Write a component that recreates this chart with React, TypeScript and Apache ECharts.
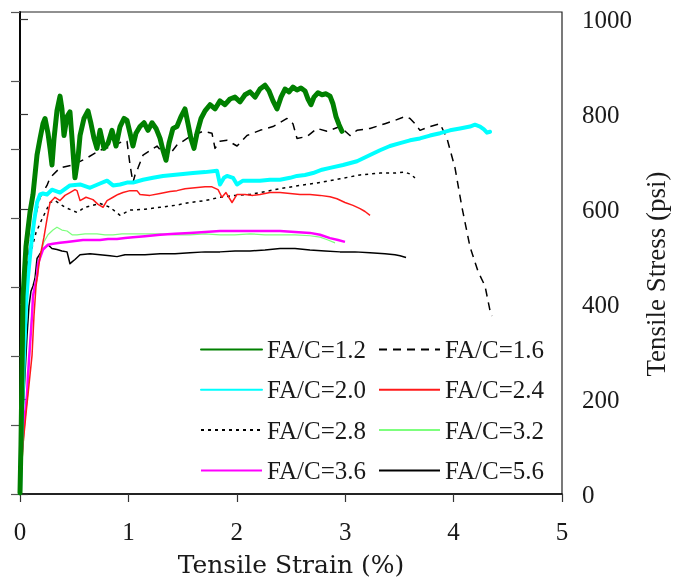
import React, { useEffect, useRef } from 'react';
import * as echarts from 'echarts';

// Axis scales
const strainMin = 0;
const strainMax = 5;
const strainStep = 1;
const psiTicks = [0, 200, 400, 600, 800, 1000];
const mpaMax = 7; // left axis, MPa
const psiPerMpa = 145.038;

// Legend names
const names = ['FA/C=1.2', 'FA/C=1.6', 'FA/C=2.0', 'FA/C=2.4', 'FA/C=2.8', 'FA/C=3.2', 'FA/C=3.6', 'FA/C=5.6'];

// [tensile strain (%), tensile stress (psi)]
const fac12 = [
  [0, 2], [0.009, 104], [0.018, 251], [0.028, 417], [0.055, 521], [0.092, 593], [0.12, 631], [0.157, 714],
  [0.185, 749], [0.212, 780], [0.231, 791], [0.258, 760], [0.277, 728], [0.295, 693], [0.314, 749], [0.341, 807],
  [0.369, 838], [0.387, 811], [0.406, 755], [0.434, 795], [0.461, 805], [0.48, 749], [0.507, 666], [0.535, 708],
  [0.554, 755], [0.59, 791], [0.627, 807], [0.655, 780], [0.683, 749], [0.71, 728], [0.738, 766], [0.775, 728],
  [0.812, 739], [0.849, 766], [0.886, 733], [0.923, 774], [0.959, 791], [0.987, 787], [1.015, 760], [1.042, 733],
  [1.07, 760], [1.107, 774], [1.144, 782], [1.181, 766], [1.218, 782], [1.255, 770], [1.292, 749], [1.319, 724],
  [1.347, 703], [1.375, 739], [1.411, 770], [1.448, 774], [1.485, 795], [1.522, 811], [1.55, 780], [1.577, 749],
  [1.605, 728], [1.633, 760], [1.67, 791], [1.707, 807], [1.753, 820], [1.799, 811], [1.845, 828], [1.891, 820],
  [1.937, 832], [1.983, 836], [2.03, 826], [2.076, 841], [2.122, 847], [2.168, 836], [2.214, 853], [2.26, 861],
  [2.297, 849], [2.334, 828], [2.371, 811], [2.408, 836], [2.445, 853], [2.482, 847], [2.518, 857], [2.555, 851],
  [2.592, 855], [2.629, 849], [2.657, 832], [2.684, 820], [2.712, 836], [2.749, 845], [2.786, 841], [2.823, 843],
  [2.86, 838], [2.887, 822], [2.915, 795], [2.943, 778], [2.97, 764],
];

const fac16 = [
  [0, 2], [0.018, 168], [0.037, 355], [0.065, 479], [0.111, 556], [0.185, 625], [0.249, 650], [0.277, 666],
  [0.369, 687], [0.489, 693], [0.618, 708], [0.738, 724], [0.858, 733], [0.95, 743], [0.987, 743], [1.015, 693],
  [1.042, 656], [1.061, 672], [1.089, 687], [1.135, 714], [1.264, 733], [1.356, 708], [1.448, 735], [1.568, 753],
  [1.688, 764], [1.771, 760], [1.799, 728], [1.845, 743], [1.91, 745], [2.002, 733], [2.094, 755], [2.214, 766],
  [2.334, 774], [2.463, 791], [2.518, 780], [2.555, 749], [2.648, 753], [2.74, 770], [2.832, 764], [2.952, 774],
  [3.044, 755], [3.109, 766], [3.229, 770], [3.367, 780], [3.459, 787], [3.552, 795], [3.598, 791], [3.644, 780],
  [3.69, 766], [3.782, 774], [3.875, 780], [3.939, 749], [4.013, 687], [4.077, 604], [4.151, 521], [4.225, 469],
  [4.29, 438], [4.336, 386], [4.354, 375],
];

const fac20 = [
  [0, 2], [0.009, 84], [0.018, 168], [0.037, 292], [0.055, 396], [0.074, 458], [0.101, 521], [0.129, 573],
  [0.157, 614], [0.185, 631], [0.212, 633], [0.249, 631], [0.295, 641], [0.369, 635], [0.461, 650], [0.554, 652],
  [0.646, 645], [0.738, 654], [0.803, 660], [0.858, 650], [0.923, 652], [0.987, 656], [1.042, 656], [1.135, 662],
  [1.227, 666], [1.319, 670], [1.411, 672], [1.504, 674], [1.596, 676], [1.707, 678], [1.817, 681], [1.845, 652],
  [1.882, 666], [1.91, 670], [1.965, 666], [2.002, 652], [2.057, 660], [2.122, 660], [2.214, 660], [2.306, 662],
  [2.399, 662], [2.491, 666], [2.555, 670], [2.629, 672], [2.703, 676], [2.786, 683], [2.86, 687], [2.98, 693],
  [3.109, 701], [3.229, 714], [3.321, 724], [3.413, 733], [3.506, 739], [3.598, 745], [3.69, 749], [3.782, 755],
  [3.875, 760], [3.967, 766], [4.059, 770], [4.151, 774], [4.197, 778], [4.244, 774], [4.28, 768], [4.308, 761],
  [4.336, 763],
];

const fac24 = [
  [0, 2], [0.028, 105], [0.055, 168], [0.083, 230], [0.111, 292], [0.129, 375], [0.148, 438], [0.185, 500],
  [0.221, 541], [0.249, 579], [0.277, 614], [0.323, 625], [0.369, 618], [0.415, 629], [0.461, 635], [0.507, 641],
  [0.526, 639], [0.554, 618], [0.609, 625], [0.673, 620], [0.72, 610], [0.766, 604], [0.803, 618], [0.858, 625],
  [0.904, 631], [0.95, 635], [1.015, 639], [1.079, 639], [1.107, 631], [1.199, 629], [1.292, 633], [1.384, 637],
  [1.448, 639], [1.522, 643], [1.614, 645], [1.707, 647], [1.771, 647], [1.827, 641], [1.863, 625], [1.9, 635],
  [1.956, 614], [2.002, 631], [2.076, 631], [2.149, 629], [2.214, 631], [2.306, 635], [2.399, 635], [2.491, 633],
  [2.583, 631], [2.675, 631], [2.768, 629], [2.86, 626], [2.924, 622], [2.998, 614], [3.072, 608], [3.137, 601],
  [3.183, 595], [3.229, 587],
];

const fac28 = [
  [0, 2], [0.018, 147], [0.037, 313], [0.065, 438], [0.101, 510], [0.148, 551], [0.203, 579], [0.277, 614],
  [0.323, 618], [0.415, 604], [0.526, 593], [0.6, 604], [0.738, 612], [0.83, 604], [0.923, 587], [1.015, 598],
  [1.153, 600], [1.292, 604], [1.43, 608], [1.568, 614], [1.707, 618], [1.845, 625], [1.983, 629], [2.122, 631],
  [2.26, 637], [2.399, 643], [2.583, 650], [2.768, 656], [2.952, 664], [3.137, 672], [3.321, 676], [3.459, 676],
  [3.552, 678], [3.598, 674], [3.644, 666],
];

const fac32 = [
  [0, 2], [0.037, 126], [0.065, 209], [0.083, 271], [0.101, 355], [0.12, 417], [0.148, 458], [0.185, 500],
  [0.221, 531], [0.258, 546], [0.304, 556], [0.341, 562], [0.387, 556], [0.434, 554], [0.48, 546], [0.526, 546],
  [0.6, 548], [0.71, 548], [0.784, 546], [0.858, 546], [0.941, 548], [1.015, 548], [1.153, 548], [1.292, 548],
  [1.43, 546], [1.568, 546], [1.707, 548], [1.845, 546], [1.983, 546], [2.122, 548], [2.26, 546], [2.399, 546],
  [2.537, 546], [2.675, 544], [2.768, 541], [2.841, 535], [2.906, 529],
];

const fac36 = [
  [0, 2], [0.009, 63], [0.028, 126], [0.046, 168], [0.065, 209], [0.074, 251], [0.092, 313], [0.111, 375],
  [0.12, 417], [0.138, 438], [0.157, 458], [0.166, 485], [0.212, 515], [0.258, 525], [0.304, 527], [0.369, 529],
  [0.434, 531], [0.507, 533], [0.581, 535], [0.664, 535], [0.738, 535], [0.812, 537], [0.895, 537], [0.969, 539],
  [1.042, 541], [1.153, 543], [1.292, 546], [1.43, 548], [1.568, 550], [1.707, 552], [1.845, 554], [1.983, 554],
  [2.122, 554], [2.26, 554], [2.399, 554], [2.537, 552], [2.675, 550], [2.768, 546], [2.86, 539], [2.934, 535],
  [2.998, 531],
];

const fac56 = [
  [0, 2], [0.009, 84], [0.028, 168], [0.046, 251], [0.065, 334], [0.083, 396], [0.101, 427], [0.12, 438],
  [0.138, 454], [0.157, 496], [0.185, 506], [0.212, 515], [0.258, 525], [0.295, 517], [0.341, 515], [0.387, 512],
  [0.434, 510], [0.461, 485], [0.48, 489], [0.507, 494], [0.554, 504], [0.646, 506], [0.738, 504], [0.83, 502],
  [0.895, 500], [0.969, 504], [1.042, 504], [1.153, 504], [1.292, 506], [1.43, 506], [1.568, 508], [1.707, 510],
  [1.845, 510], [1.983, 512], [2.122, 512], [2.26, 514], [2.399, 517], [2.537, 517], [2.675, 514], [2.814, 512],
  [2.952, 510], [3.09, 510], [3.229, 508], [3.367, 506], [3.459, 504], [3.506, 502], [3.561, 498],
];

const serif = 'Liberation Serif';
const wideSerif = 'DejaVu Serif';
const textColor = '#1a1a1a';

type LineDef = { data: number[][]; color: string; width: number; dash?: number[] };

const lines: LineDef[] = [
  { data: fac12, color: '#008000', width: 5 },
  { data: fac16, color: '#000000', width: 1.5, dash: [8, 6] },
  { data: fac20, color: '#00ffff', width: 4 },
  { data: fac24, color: '#ff1a1a', width: 1.5 },
  { data: fac28, color: '#000000', width: 1.5, dash: [3, 4] },
  { data: fac32, color: '#7dff7d', width: 1.2 },
  { data: fac36, color: '#ff00ff', width: 2.5 },
  { data: fac56, color: '#000000', width: 1.5 },
];

const drawOrder = [4, 1, 7, 5, 6, 3, 2, 0];

const legendBase = {
  orient: 'vertical',
  top: 337,
  itemWidth: 61,
  itemHeight: 14,
  itemGap: 15.3,
  padding: 0,
  selectedMode: false,
  textStyle: { fontFamily: serif, fontSize: 25, color: textColor },
  itemStyle: { opacity: 0 },
};

const option = {
  animation: false,
  grid: { left: 20, right: 111, top: 12, bottom: 81, show: true, borderColor: '#222', borderWidth: 1.2 },
  legend: [
    { ...legendBase, left: 200, data: [names[0], names[2], names[4], names[6]] },
    { ...legendBase, left: 378, data: [names[1], names[3], names[5], names[7]] },
  ],
  xAxis: {
    type: 'value',
    min: strainMin,
    max: strainMax,
    interval: strainStep,
    name: 'Tensile Strain (%)',
    nameLocation: 'middle',
    nameGap: 58,
    nameTextStyle: { fontFamily: wideSerif, fontSize: 25, color: textColor },
    axisLine: { show: true, onZero: false, lineStyle: { color: '#000', width: 1.5 } },
    axisTick: { show: true, inside: false, length: 8, lineStyle: { color: '#333', width: 1.2 } },
    axisLabel: { margin: 25, fontFamily: serif, fontSize: 25, color: textColor },
    splitLine: { show: false },
  },
  yAxis: [
    {
      type: 'value',
      position: 'right',
      min: 0,
      max: mpaMax * psiPerMpa,
      interval: 200,
      axisLine: { show: true, lineStyle: { color: '#000', width: 1.5 } },
      axisTick: { show: true, inside: false, length: 8, customValues: psiTicks, lineStyle: { color: '#333', width: 1.2 } },
      axisLabel: {
        margin: 20,
        fontFamily: serif,
        fontSize: 25,
        color: textColor,
        customValues: psiTicks,
        formatter: (v: number) => String(Math.round(v)),
      },
      splitLine: { show: false },
    },
    {
      type: 'value',
      position: 'left',
      min: 0,
      max: mpaMax,
      interval: 1,
      axisLine: { show: true, lineStyle: { color: '#000', width: 1.5 } },
      axisTick: { show: true, inside: false, length: 9, lineStyle: { color: '#555', width: 1.2 } },
      axisLabel: { show: false },
      splitLine: { show: false },
    },
  ],
  graphic: [
    {
      type: 'text',
      x: 656,
      y: 274,
      rotation: Math.PI / 2,
      style: {
        text: 'Tensile Stress (psi)',
        fontFamily: serif,
        fontSize: 27,
        fill: textColor,
        align: 'center',
        verticalAlign: 'middle',
      },
    },
  ],
  series: drawOrder.map((i) => ({
    name: names[i],
    type: 'line',
    data: lines[i].data,
    symbol: 'none',
    lineStyle: {
      color: lines[i].color,
      width: lines[i].width,
      type: lines[i].dash ? lines[i].dash : 'solid',
      cap: lines[i].width >= 4 ? 'round' : 'butt',
      join: 'round',
    },
    itemStyle: { color: lines[i].color },
    z: 2 + drawOrder.indexOf(i),
  })),
};

export default function App() {
  const ref = useRef<HTMLDivElement>(null);
  useEffect(() => {
    const chart = echarts.init(ref.current!, null, { renderer: 'svg' });
    chart.setOption(option as any);
    return () => chart.dispose();
  }, []);
  return <div ref={ref} style={{ position: 'fixed', left: 0, top: 0, width: 673, height: 582 }} />;
}
